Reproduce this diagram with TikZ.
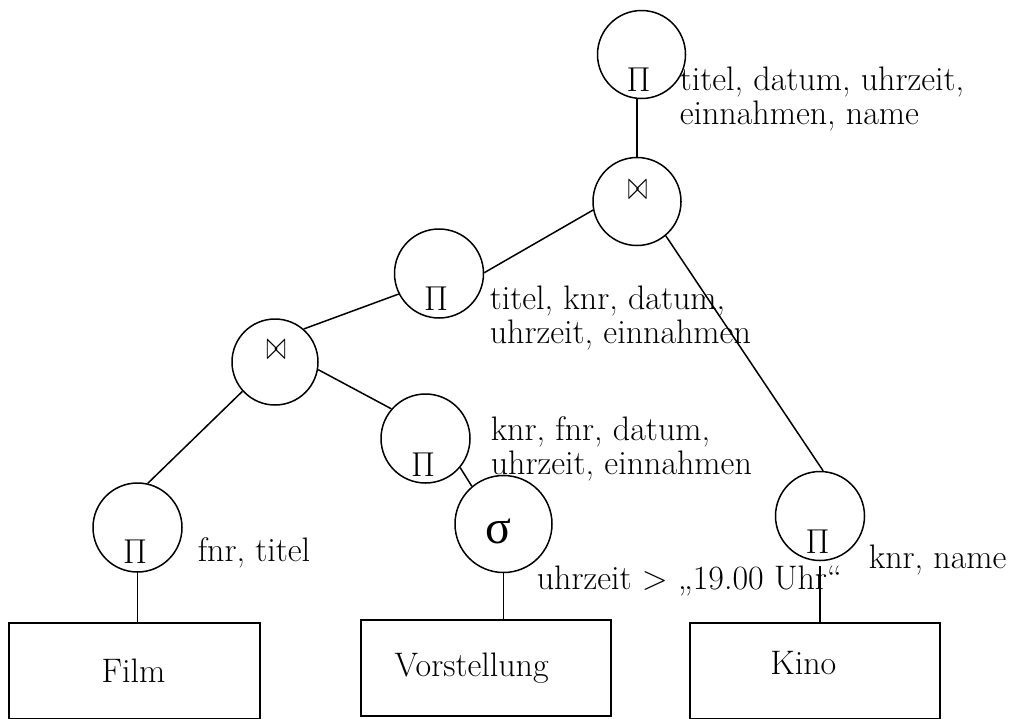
\documentclass[tikz,border=0pt]{standalone}
\usepackage{fontspec}
\newfontfamily\grk{Liberation Serif}
\usetikzlibrary{calc}
\begin{document}
\begin{tikzpicture}[x=0.5pt,y=-0.5pt, line width=0.75pt,
  op/.style={draw, circle, inner sep=0pt, minimum size=#1},
  sym/.style={inner sep=0pt, font=\fontsize{18.5}{18.5}\selectfont},
  jn/.style={inner sep=0pt},
  lbl/.style={anchor=base west, align=left, inner sep=0pt, font=\fontsize{17}{17}\selectfont},
  relbox/.style={draw, line width=0.9pt, rectangle, inner sep=0pt, minimum width=125pt, minimum height=48pt},
  rtxt/.style={anchor=base, inner sep=0pt, font=\fontsize{17}{17}\selectfont}]
\useasboundingbox (0,0) rectangle (1010,718);
\newcommand{\jsym}{\scalebox{1}[1.7]{\fontsize{12}{12}\selectfont$\bowtie$}}
% operator circles
\node[op=44pt] (p1) at (641.5,54.5) {};
\node[sym] (p1s) at (638.5,80) {$\Pi$};
\node[op=44pt] (j1) at (637,201.5) {};
\node[jn] (j1s) at (637.5,190) {\jsym};
\node[op=44.5pt] (pm) at (439,273.5) {};
\node[sym] (pms) at (436,299) {$\Pi$};
\node[op=43pt] (jl) at (275,362) {};
\node[jn] (jls) at (276,350) {\jsym};
\node[op=44.5pt] (pk2) at (425.5,438.5) {};
\node[sym] (pk2s) at (423,465) {$\Pi$};
\node[op=48.5pt] (sg) at (503.5,524) {};
\node[inner sep=0pt, font=\fontsize{24}{24}\selectfont\grk] (sgs) at (498.5,531) {σ};
\node[op=44.5pt] (pf) at (137.5,527.5) {};
\node[sym] (pfs) at (135,552) {$\Pi$};
\node[op=44.5pt] (pk) at (820,516) {};
\node[sym] (pks) at (817.5,542) {$\Pi$};
% relations
\node[relbox, minimum width=125.5pt] (film) at (134.5,671) {};
\node[rtxt] (filmt) at (133.5,682) {Film};
\node[relbox] (vor) at (486,668) {};
\node[rtxt] (vort) at (471.7,676) {Vorstellung};
\node[relbox] (kino) at (815,671) {};
\node[rtxt] (kinot) at (803.3,674) {Kino};
% labels (base = last line)
\node[lbl] (l1) at (679,124) {titel, datum, uhrzeit,\\einnahmen, name};
\node[lbl] (l2) at (489,343) {titel, knr, datum,\\uhrzeit, einnahmen};
\node[lbl] (l3) at (490,474) {knr, fnr, datum,\\uhrzeit, einnahmen};
\node[lbl] (l4) at (197,561) {fnr, titel};
\node[lbl] (l5) at (536,589) {uhrzeit > „19.00 Uhr“};
\node[lbl] (l6) at (868,568) {knr, name};
% connectors
\draw (j1.north) -- (j1.north |- p1.south);
\draw (j1.191) -- (pm.1);
\draw (j1.310) -- (pk.86);
\draw (pm.207) -- (jl.49);
\draw (jl.350) -- (pk2.139);
\draw (jl.222) -- (pf.77);
\draw (pk2.320) -- (sg.130);
\draw (pf.south) -- (pf.south |- film.north);
\draw (sg.south) -- (sg.south |- vor.north);
\draw[shorten <=2.5pt] (pk.south) -- (pk.south |- kino.north);
\end{tikzpicture}
\end{document}
